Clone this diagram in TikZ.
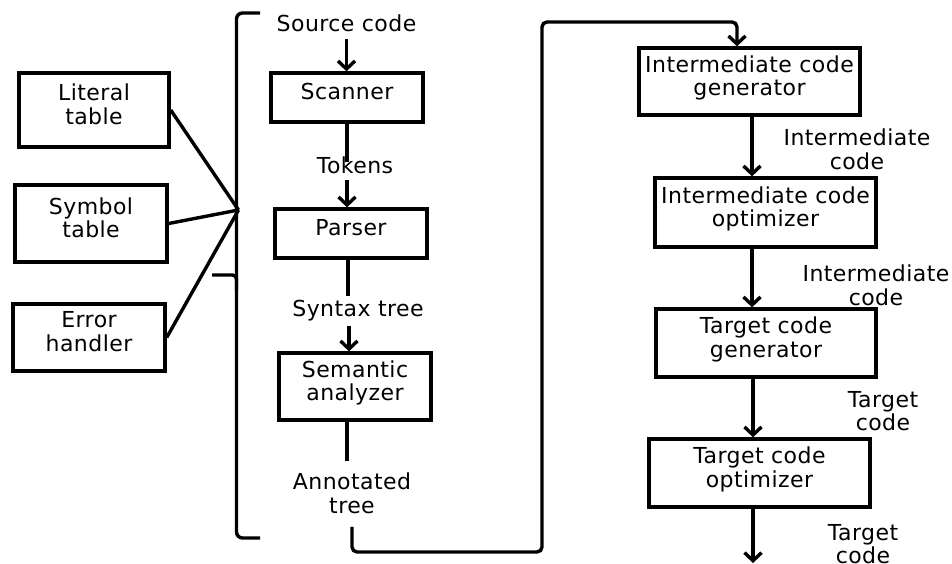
\documentclass[tikz,border=0pt]{standalone}
\usepackage{fontspec}
\setmainfont[LetterSpace=2]{DejaVu Sans}
\usetikzlibrary{arrows.meta}
\newcommand{\labfont}{\fontsize{22}{23.5}\selectfont}
\begin{document}
\begin{tikzpicture}[x=1pt,y=-1pt,
  box/.style={draw, line width=3.4pt, inner sep=0pt, align=center,
              text depth=12pt, font=\labfont},
  txt/.style={inner sep=0pt, align=center, font=\labfont},
  link/.style={line width=3.4pt},
  arr/.style={link, -{Straight Barb[length=8pt,width=17pt]}}]
\useasboundingbox (0,0) rectangle (952,564);

% tables used by every phase
\node[box, minimum width=150pt, minimum height=74pt] (lit) at (94,110) {Literal\\table};
\node[box, minimum width=152pt, minimum height=77pt] (sym) at (91,223.5) {Symbol\\table};
\node[box, minimum width=152pt, minimum height=67pt] (err) at (89,337.5) {Error\\handler};

% front end
\node[box, minimum width=152pt, minimum height=49pt] (scan) at (347,97.5) {Scanner};
\node[box, minimum width=152pt, minimum height=49pt] (pars) at (351,233.5) {Parser};
\node[box, minimum width=152pt, minimum height=67pt] (sem) at (355,386.5) {Semantic\\analyzer};

% back end
\node[box, minimum width=221pt, minimum height=67pt] (icg) at (749.5,81.5) {Intermediate code\\generator};
\node[box, minimum width=221pt, minimum height=69pt] (ico) at (765.5,212.5) {Intermediate code\\optimizer};
\node[box, minimum width=220pt, minimum height=68pt] (tcg) at (766,343) {Target code\\generator};
\node[box, minimum width=221pt, minimum height=68pt] (tco) at (759.5,473) {Target code\\optimizer};

% data passed between phases
\node[txt, anchor=north] (src) at (346.5,15) {Source code};
\node[txt, anchor=north] (tok) at (355,157) {Tokens};
\node[txt, anchor=north] (syn) at (358,300) {Syntax tree};
\node[txt, anchor=north] (ann) at (352,473) {Annotated\\tree};
\node[txt, anchor=north] (ic1) at (857,129) {Intermediate\\code};
\node[txt, anchor=north] (ic2) at (876,265) {Intermediate\\code};
\node[txt, anchor=north] (tc1) at (883,391) {Target\\code};
\node[txt, anchor=north] (tc2) at (863,524) {Target\\code};

\coordinate (hub) at (238.5,210);
\coordinate (out) at (753,563);

% bracket grouping the front end
\draw[link, rounded corners=6pt] (260,13) -- (236.5,13) -- (236.5,538) -- (260,538);
\draw[link, rounded corners=4pt] (212,275) -- (236.5,275) -- (236.5,290);

% tables feed the front end
\draw[link] (lit.east) -- (hub);
\draw[link] (sym.east) -- (hub);
\draw[link] (err.east) -- (hub);

% front-end flow
\draw[arr, shorten <=7pt] (src.south) -- (scan.north -| src.south);
\draw[link, shorten >=-5pt] (scan.south) -- (tok.north -| scan.south);
\draw[arr, shorten <=6pt] (tok.south -| scan.south) -- (pars.north -| scan.south);
\draw[link, shorten >=4pt] (pars.south -| 348,0) -- (syn.north -| 348,0);
\draw[arr, shorten <=5pt] (syn.south -| 349,0) -- (sem.north -| 349,0);
\draw[link, shorten >=12pt] (sem.south -| 347,0) -- (ann.north -| 347,0);

% hand-over to the back end
\draw[arr, rounded corners=5pt, shorten <=13pt]
  (ann.south) |- (542,552) -- (542,22) -| (icg.north -| 737,0);

% back-end flow
\draw[arr] (icg.south -| 752,0) -- (ico.north -| 752,0);
\draw[arr] (ico.south -| 752,0) -- (tcg.north -| 752,0);
\draw[arr] (tcg.south -| 753,0) -- (tco.north -| 753,0);
\draw[arr] (tco.south -| 753,0) -- (out);
\end{tikzpicture}
\end{document}
